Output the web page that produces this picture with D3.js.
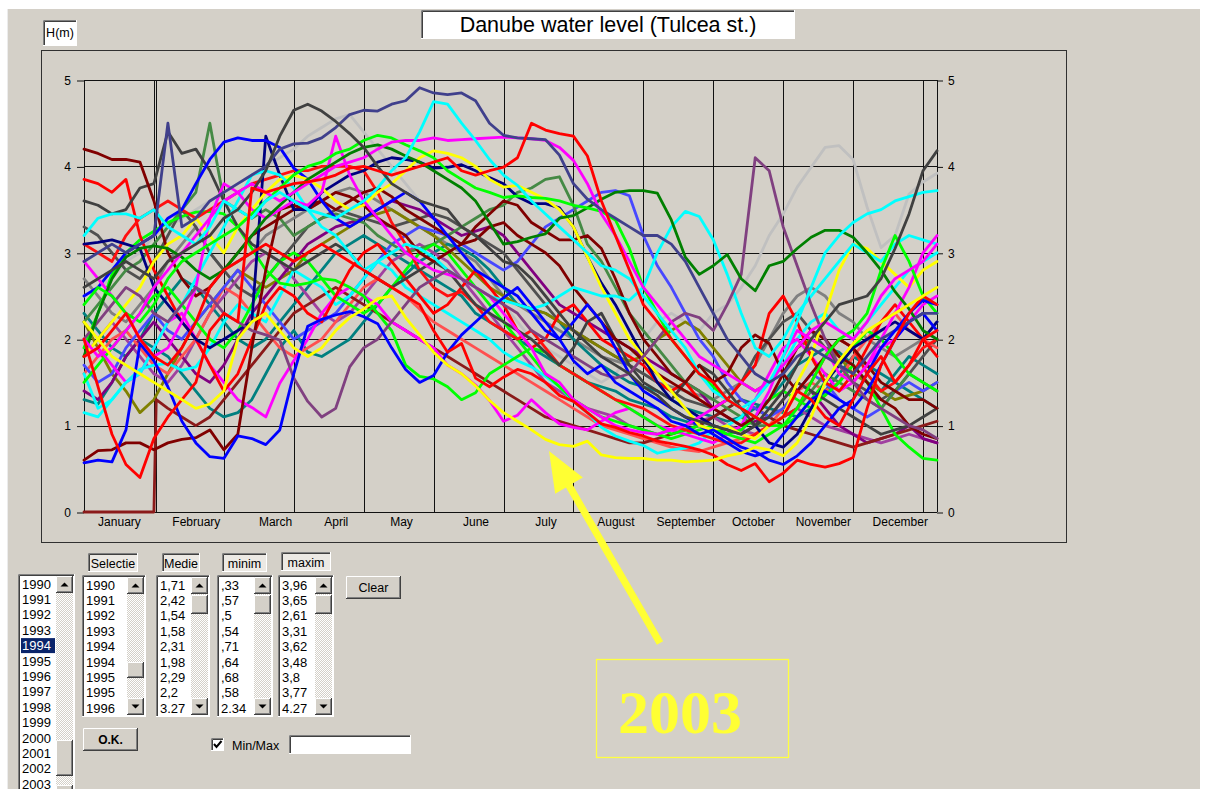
<!DOCTYPE html>
<html><head><meta charset="utf-8">
<script src="https://cdn.jsdelivr.net/npm/d3@7"></script>
<style>
html,body{margin:0;padding:0;background:#fff;}
svg{display:block;font-family:"Liberation Sans",Arial,sans-serif;}
</style></head><body>
<svg id="c" width="1217" height="789"></svg>
<script>
// ---- sampling grid: day of year, every 6 days ----
const DAYS = [0,6,12,18,24,30,36,42,48,54,60,66,72,78,84,90,96,102,108,114,120,126,132,138,144,150,156,162,168,174,180,186,192,198,204,210,216,222,228,234,240,246,252,258,264,270,276,282,288,294,300,306,312,318,324,330,336,342,348,354,360,366];
// one year has no January record; the program plots it at 0 until day 30
const EMPTY_JAN_DAYS = [0, 30, 31];

const MONTHS = ["January","February","March","April","May","June","July","August","September","October","November","December"];
const MONTH_LABEL_DAYS = [15,48,82,108,136,168,198,228,258,287,317,350];
const GRID_DAYS = [0,30,31,60,90,120,150,180,210,240,270,300,330,360,366];
const LEVEL_TICKS = [0,1,2,3,4,5];

// ---- water level H(m), one array per year on the DAYS grid ----
const lvlRedA = [2.0,1.45,0.9,0.55,0.4, 0.85,1.1,1.3,1.5,2.1, 2.3,2.2,3.75,3.7,3.75, 3.8,3.82,3.85,3.9,3.98, 4.0,3.95,3.9,3.95,4.0, 4.05,4.1,3.95,3.9,3.95, 3.99,4.1,4.5,4.42,4.38, 4.35,4.12,3.6,3.2,2.8, 2.4,2.2,2.0,1.8,1.6, 1.5,1.3,1.2,1.1,1.0, 1.1,1.4,1.3,1.1,1.0, 1.3,1.6,1.8,1.5,1.7, 2.0,2.1];
const lvlRedB = [1.8,1.9,2.1,2.3,2.0, 1.8,1.7,1.9,2.2,2.6, 2.8,2.9,3.0,3.1,3.0, 2.9,3.0,3.1,3.0,2.9, 2.8,2.7,2.6,2.5,2.4, 2.1,1.85,1.95,1.55,1.45, 1.56,1.65,1.6,1.5,1.35, 1.28,1.15,1.02,0.98,0.92, 0.88,0.82,0.79,0.76,0.72, 0.66,0.55,0.48,0.56,0.35, 0.45,0.6,0.55,0.52,0.56, 0.63,1.2,1.7,2.0,2.3, 2.5,2.4];
const lvlRedC = [3.85,3.8,3.7,3.85,3.2, 2.8,2.5,2.2,2.0,1.7, 1.4,1.6,2.0,2.4,2.6, 2.5,2.3,2.2,2.5,2.8, 3.0,3.1,2.9,2.7,2.5, 2.3,2.4,2.6,2.8,2.6, 2.4,2.1,1.9,2.0,2.3, 2.4,2.2,2.0,1.9,1.8, 1.7,1.5,1.4,1.5,1.3, 1.2,1.3,1.5,1.7,2.3, 2.5,2.2,1.8,1.5,1.4, 1.6,1.9,2.2,2.4,2.2, 2.0,1.8];
const lvlRedD = [3.1,3.0,2.9,3.2,3.4, 3.5,3.6,3.5,3.4,3.5, 3.6,3.7,3.8,3.85,3.9, 3.95,3.95,4.0,4.0,4.0, 3.95,3.7,3.35,3.1,2.8, 2.6,2.5,2.55,2.4,2.2, 2.1,2.0,2.1,1.9,1.7, 1.6,1.5,1.4,1.3,1.25, 1.2,1.1,1.0,0.95,0.9, 0.85,0.8,0.8,0.9,1.0, 1.1,1.2,1.5,1.8,2.0, 1.9,1.6,1.4,1.5,1.7, 1.9,2.0];
const lvlBlue = [0.57,0.6,0.58,0.95,1.95, 1.75,1.45,1.05,0.8,0.64, 0.62,0.88,0.85,0.78,0.95, 1.6,2.15,2.23,2.28,2.32, 2.26,2.18,1.9,1.65,1.5, 1.58,1.85,2.05,2.2,2.35, 2.48,2.6,2.4,2.2,2.0, 1.75,1.6,1.7,1.5,1.4, 1.3,1.2,1.05,1.0,0.9, 0.95,0.85,0.75,0.7,0.6, 0.55,0.65,0.8,1.0,1.2, 1.3,1.6,1.9,2.1,2.3, 2.45,2.4];
const lvlMaroonA = [4.2,4.15,4.08,4.08,4.05, 3.6,3.0,2.7,2.5,2.6, 2.8,3.0,3.2,3.3,3.4, 3.5,3.55,3.6,3.5,3.6, 3.7,3.75,3.65,3.5,3.4, 3.3,3.2,3.1,3.15,3.3, 3.35,3.2,3.1,3.0,2.85, 2.6,2.4,2.2,2.0,1.9, 1.75,1.6,1.5,1.4,1.3, 1.2,1.1,1.0,1.1,1.3, 1.6,1.9,2.1,2.0,1.8, 1.7,1.5,1.3,1.2,1.0, 0.9,0.85];
const lvlMaroonB = [0.6,0.71,0.72,0.8,0.8, 0.72,0.8,0.84,0.86,0.95, 0.72,0.9,1.9,2.8,3.5, 3.55,3.5,3.6,3.7,3.65, 3.55,3.4,3.3,3.2,3.0, 2.9,3.0,3.1,3.3,3.45, 3.6,3.55,3.35,3.25,3.15, 3.15,3.2,3.05,2.7,2.3, 2.0,1.8,1.6,1.5,1.7, 1.5,1.6,1.9,2.05,1.95, 1.6,1.4,1.6,1.8,2.0, 1.9,1.7,1.5,1.4,1.3, 1.3,1.2];
const lvlDarkGrayA = [3.6,3.55,3.45,3.5,3.75, 3.8,4.4,4.15,4.2,3.95, 3.6,3.3,3.1,3.0,2.9, 2.8,2.9,3.0,3.1,3.0, 2.8,2.7,2.6,2.7,2.8, 2.9,2.8,2.6,2.4,2.3, 2.2,2.1,2.0,1.85,1.7, 1.9,2.2,2.3,2.0,1.7, 1.5,1.4,1.3,1.5,1.7, 1.6,1.4,1.2,1.0,1.1, 1.3,1.5,1.4,1.3,1.2, 1.1,1.0,0.9,0.95,1.0, 1.1,1.2];
const lvlDarkGrayB = [2.6,2.7,2.8,2.9,2.8, 2.7,2.9,3.0,3.1,3.2, 3.4,3.5,3.7,3.95,4.35, 4.65,4.72,4.64,4.52,4.38, 4.22,4.0,3.8,3.7,3.6, 3.55,3.5,3.3,3.2,3.05, 2.9,2.85,2.7,2.5,2.3, 2.1,1.95,1.8,1.7,1.6, 1.45,1.35,1.2,1.1,1.05, 1.0,0.95,0.9,1.0,1.2, 1.4,1.7,2.0,2.2,2.4, 2.45,2.5,2.7,3.05,3.45, 3.95,4.18];
const lvlDarkGrayC = [3.3,3.2,3.0,2.8,2.7, 2.9,3.2,3.5,3.3,3.0, 2.8,2.6,2.5,2.7,2.9, 3.1,3.3,3.4,3.5,3.45, 3.4,3.35,3.3,3.35,3.4, 3.45,3.4,3.3,3.2,3.1, 3.0,2.8,2.6,2.4,2.2, 2.1,2.0,1.9,1.8,1.7, 1.6,1.5,1.4,1.3,1.25, 1.2,1.3,1.5,1.8,2.0, 2.2,2.3,2.1,1.9,1.7, 1.5,1.4,1.3,1.4,1.6, 1.8,2.0];
const lvlSlate = [2.9,3.0,3.1,3.0,3.1, 3.2,4.5,3.3,3.4,3.6, 3.7,3.8,3.9,4.0,4.2, 4.26,4.27,4.33,4.45,4.6, 4.65,4.64,4.72,4.76,4.91, 4.85,4.83,4.85,4.76,4.5, 4.36,4.33,4.32,4.31,4.13, 3.8,3.62,3.5,3.4,3.3, 3.2,3.2,3.1,2.9,2.6, 2.3,2.0,1.8,1.6,1.5, 1.6,1.8,1.9,1.8,1.7, 1.6,1.8,2.0,2.1,2.2, 2.3,2.3];
const lvlCyanA = [3.2,3.4,3.45,3.45,3.4, 3.5,3.3,3.2,3.1,3.3, 3.6,3.5,3.4,3.6,3.7, 3.6,3.5,3.45,3.4,3.5, 3.6,3.75,3.95,4.1,4.4, 4.75,4.72,4.5,4.3,4.08, 3.9,3.78,3.6,3.45,3.3, 3.15,3.0,2.85,2.8,2.7, 2.5,2.3,2.1,1.9,1.6, 1.4,1.3,1.2,1.3,1.5, 1.8,2.2,2.6,3.0,3.2, 3.35,3.45,3.5,3.6,3.65, 3.7,3.72];
const lvlCyanB = [1.15,1.1,1.3,1.5,1.6, 1.9,2.2,2.4,2.7,3.0, 3.3,3.6,3.9,3.95,3.9, 3.75,3.5,3.3,3.2,3.0, 2.8,2.9,3.0,3.1,3.05, 2.95,2.8,2.7,2.6,2.5, 2.45,2.4,2.35,2.4,2.5, 2.6,2.55,2.5,2.5,2.45, 2.6,3.0,3.3,3.48,3.42, 3.15,2.75,2.3,1.9,1.8, 2.0,2.3,2.5,2.7,2.9, 3.1,3.0,2.9,3.1,3.2, 3.15,3.1];
const lvlCyanC = [1.6,1.2,1.3,1.5,1.65, 1.7,1.72,1.64,1.68,1.9, 2.2,2.4,2.3,2.2,2.5, 2.8,2.7,2.6,2.4,2.5, 2.7,2.9,2.8,2.6,2.5, 2.4,2.3,2.2,2.1,2.0, 1.85,1.75,1.68,1.57,1.45, 1.28,1.15,0.98,0.88,0.82, 0.77,0.68,0.72,0.74,0.8, 0.95,1.0,1.1,1.3,1.5, 1.7,2.0,2.2,2.3,2.1, 2.0,2.2,2.4,2.6,2.8, 2.9,3.0];
const lvlMagentaA = [2.0,1.8,1.9,2.1,2.3, 2.6,2.8,3.0,3.2,3.4, 3.6,3.7,3.8,3.7,3.6, 3.7,3.8,3.9,4.0,4.05, 4.1,4.2,4.28,4.3,4.3, 4.33,4.3,4.31,4.32,4.33, 4.34,4.33,4.32,4.3,4.22, 4.07,3.8,3.45,3.2,2.9, 2.6,2.4,2.2,2.0,1.8, 1.7,1.6,1.5,1.4,1.5, 1.7,1.9,2.1,2.2,2.1, 2.0,2.2,2.5,2.7,2.8, 2.9,3.1];
const lvlMagentaB = [2.9,2.7,2.5,2.3,2.0, 1.8,1.9,2.2,2.6,3.4, 3.8,3.7,3.5,3.4,3.5, 3.6,3.55,3.7,4.35,3.9, 3.6,3.4,3.2,3.0,2.9, 2.8,2.75,2.7,2.6,2.5, 2.3,2.1,1.9,1.6,1.5, 1.3,1.2,1.1,1.0,0.95, 0.92,0.9,0.95,1.0,1.1, 1.2,1.3,1.2,1.1,1.4, 1.8,2.1,2.0,1.9,1.6, 1.5,1.7,2.0,2.3,2.6, 3.0,3.2];
const lvlMagentaC = [1.8,1.9,1.7,1.5,1.6, 1.9,2.2,2.3,2.0,1.7, 1.5,1.3,1.21,1.1,1.49, 1.75,2.0,2.3,2.5,2.6, 2.5,2.4,2.2,2.1,2.0, 1.9,1.7,1.6,1.47,1.29, 1.05,1.12,1.3,1.15,1.02, 0.98,0.95,1.05,1.15,1.2, 1.1,1.0,0.95,0.9,0.85, 0.8,0.9,1.0,1.3,1.6, 1.9,2.0,1.8,1.6,1.4, 1.5,1.7,1.9,2.0,2.2, 2.4,2.5];
const lvl2003 = [2.2,2.0,1.8,1.7,1.6, 1.5,1.4,1.3,1.2,1.25, 1.4,2.0,2.2,2.3,2.1, 1.9,1.8,1.9,2.1,2.25, 2.35,2.47,2.5,2.25,2.05, 1.85,1.7,1.6,1.46,1.29, 1.15,1.05,0.95,0.84,0.78, 0.76,0.82,0.66,0.63,0.62, 0.62,0.6,0.6,0.58,0.59, 0.6,0.65,0.68,0.75,0.72, 0.65,0.8,1.1,1.5,1.75, 1.95,2.1,2.2,2.3,2.4, 2.5,2.6];
const lvlYellowB = [1.8,2.0,2.2,2.4,2.6, 2.9,3.1,3.2,3.4,3.2, 3.0,3.3,3.5,3.7,3.85, 3.9,3.85,3.75,3.6,3.5, 3.55,3.7,3.8,3.95,4.1, 4.18,4.15,4.1,4.0,3.85, 3.76,3.78,3.7,3.62,3.5, 3.3,2.95,2.6,2.3,2.0, 1.8,1.6,1.4,1.2,1.0, 0.95,1.0,0.9,0.85,1.0, 1.1,1.5,1.8,2.3,2.8, 3.1,3.05,2.9,2.75,2.6, 2.8,2.9];
const lvlLimeA = [2.4,2.6,2.5,2.3,2.2, 2.4,2.7,2.9,3.0,3.1, 3.2,3.3,3.45,3.6,3.75, 3.9,4.0,4.05,4.15,4.2, 4.3,4.36,4.33,4.25,4.18, 4.1,3.95,3.85,3.75,3.7, 3.64,3.66,3.64,3.63,3.6, 3.55,3.52,3.48,3.38,3.05, 2.6,2.3,2.0,1.8,1.6, 1.45,1.3,1.2,1.1,1.0, 1.0,1.2,1.5,1.8,2.0, 2.1,2.3,2.8,3.2,2.9, 2.5,2.3];
const lvlLimeB = [1.9,2.3,2.75,3.0,3.15, 3.25,3.35,3.42,3.47,3.48, 3.45,3.3,3.05,2.8,2.65, 2.62,2.65,2.7,2.68,2.6, 2.5,2.3,2.1,1.7,1.57, 1.54,1.45,1.3,1.38,1.6, 1.7,1.8,1.9,1.85,1.7, 1.6,1.5,1.4,1.3,1.2, 1.1,1.0,0.9,0.95,1.0, 0.95,0.9,0.95,1.1,1.3, 1.4,1.3,1.2,1.35,1.5, 1.7,1.5,1.2,0.9,0.75, 0.62,0.6];
const lvlLimeC = [1.5,1.7,1.9,2.1,2.3, 2.5,2.6,2.4,2.2,2.0, 1.9,2.1,2.4,2.7,2.9, 3.0,2.9,2.7,2.5,2.4, 2.3,2.4,2.6,2.8,3.0, 3.1,3.0,2.8,2.6,2.4, 2.2,2.0,1.8,1.6,1.45, 1.3,1.2,1.1,1.05,1.0, 0.95,0.9,0.85,0.9,0.95, 1.0,0.9,0.85,0.8,0.9, 1.0,1.1,1.3,1.5,1.7, 1.9,2.1,2.0,1.8,1.6, 1.5,1.4];
const lvlGreenA = [1.8,2.3,2.7,2.95,3.05, 3.08,3.05,2.95,2.8,2.7, 2.8,3.0,3.2,3.4,3.55, 3.7,3.85,3.95,4.05,4.15, 4.22,4.25,4.2,4.12,4.05, 3.95,3.85,3.75,3.6,3.35, 3.1,3.13,3.18,3.22,3.4, 3.43,3.52,3.62,3.7,3.72, 3.72,3.69,3.38,2.95,2.75, 2.85,2.98,2.7,2.56,2.85, 2.9,3.05,3.18,3.26,3.26, 3.18,3.0,2.8,2.55,2.35, 2.1,2.0];
const lvlGreenB = [2.2,2.4,2.6,2.8,2.9, 3.1,3.3,3.5,3.7,4.5, 3.6,3.5,3.4,3.5,3.4, 3.2,3.3,3.4,3.45,3.4, 3.35,3.2,3.1,3.0,3.05, 3.1,3.2,3.3,3.4,3.5, 3.55,3.7,3.75,3.85,3.88, 3.55,3.1,2.9,2.6,2.3, 2.1,1.9,1.7,1.5,1.4, 1.3,1.2,1.1,1.0,1.0, 1.1,1.2,1.4,1.6,1.5, 1.4,1.3,1.2,1.4,1.6, 1.5,1.4];
const lvlNavy = [3.1,3.12,3.15,3.1,3.05, 2.6,2.4,2.2,2.0,1.9, 2.0,2.1,2.2,4.35,3.9, 3.5,3.5,3.7,3.8,3.9, 3.95,4.05,4.1,4.08,4.05, 3.98,3.99,4.02,3.95,3.87, 3.8,3.65,3.57,3.57,3.52, 3.3,2.95,2.65,2.4,2.1, 1.8,1.5,1.3,1.2,1.1, 1.0,0.95,0.9,1.0,0.8, 0.75,0.9,1.2,1.5,1.7, 1.9,2.0,2.1,2.2,2.1, 2.0,2.2];
const lvlBlueB = [2.5,2.6,2.8,3.0,3.1, 3.2,3.4,3.5,3.8,4.08, 4.28,4.33,4.3,4.3,4.22, 3.98,3.85,3.6,3.4,3.3, 3.4,3.5,3.6,3.7,3.6, 3.4,3.2,3.0,2.8,2.7, 2.6,2.5,2.3,2.1,2.0, 2.2,2.4,2.2,1.9,1.6, 1.4,1.3,1.2,1.1,1.0, 0.9,0.8,0.7,0.65,0.7, 0.9,1.1,1.3,1.4,1.3, 1.2,1.4,1.7,2.0,2.2, 2.3,2.1];
const lvlMidBlue = [1.7,1.5,1.6,1.9,2.1, 2.3,2.1,2.0,2.2,2.4, 2.6,2.8,2.6,2.4,2.2, 2.0,2.1,2.2,2.3,2.5, 2.7,2.9,3.1,3.2,3.3, 3.25,3.2,3.1,3.0,2.9, 2.8,2.9,3.1,3.3,3.4, 3.5,3.6,3.7,3.72,3.66, 3.2,2.85,2.6,2.3,2.0, 1.8,1.5,1.3,1.2,1.1, 1.2,1.4,1.6,1.5,1.3, 1.2,1.1,1.2,1.4,1.5, 1.4,1.5];
const lvlPurpleA = [2.0,2.2,2.4,2.6,2.5, 2.3,2.2,2.4,2.6,2.5, 2.3,2.2,2.1,2.05,1.99, 1.55,1.28,1.1,1.2,1.68, 1.9,2.0,2.2,2.4,2.6, 2.7,2.8,2.7,2.6,2.5, 2.4,2.3,2.1,2.0,1.9, 1.8,1.7,1.6,1.55,1.6, 1.8,2.0,2.2,2.3,2.25, 2.1,2.4,2.75,4.1,3.95, 3.3,2.85,2.4,2.0,1.7, 1.5,1.3,1.2,1.1,1.0, 0.95,0.85];
const lvlPurpleB = [1.4,1.3,1.5,1.8,2.0, 2.2,2.0,1.8,1.6,1.5, 1.7,2.0,2.3,2.5,2.7, 2.9,3.1,3.2,3.3,3.35, 3.4,3.5,3.6,3.55,3.5, 3.4,3.3,3.2,3.25,3.3, 3.2,3.0,2.8,2.6,2.4, 2.3,2.2,2.1,2.0,1.9, 1.8,1.7,1.6,1.5,1.4, 1.2,1.1,1.0,1.05,1.1, 1.3,1.5,1.4,1.2,1.0, 0.9,0.8,0.85,0.9,1.0, 0.85,0.8];
const lvlPurpleC = [1.8,2.0,2.2,2.0,1.8, 1.6,1.5,1.7,2.0,2.3, 2.5,2.7,2.9,3.0,2.9, 2.7,2.5,2.3,2.2,2.3, 2.5,2.7,2.9,3.0,3.1, 3.0,2.9,2.7,2.5,2.3, 2.1,1.9,1.7,1.5,1.4, 1.3,1.2,1.15,1.1,1.0, 0.95,0.9,0.95,1.0,1.05, 1.1,1.0,0.95,0.9,1.0, 1.1,1.2,1.1,1.0,0.95, 0.9,0.85,0.8,0.85,0.9, 0.85,0.8];
const lvlOlive = [2.2,1.9,1.6,1.4,1.15, 1.3,1.6,1.9,2.2,2.4, 2.6,2.8,2.7,2.6,2.7, 2.8,3.0,3.1,3.2,3.3, 3.4,3.45,3.5,3.4,3.3, 3.2,3.05,2.9,2.75,2.6, 2.5,2.4,2.35,2.3,2.2, 2.1,2.0,1.9,1.8,1.75, 1.8,2.0,2.1,2.2,2.1, 1.9,1.7,1.5,1.4,1.5, 1.7,1.9,2.0,1.9,1.8, 1.6,1.5,1.4,1.3,1.35, 1.4,1.5];
const lvlTeal = [1.3,1.25,1.5,1.8,2.0, 1.9,1.8,1.6,1.4,1.2, 1.1,1.15,1.3,1.6,1.9, 2.1,1.85,1.8,1.9,2.0, 2.2,2.4,2.6,2.75,2.9, 3.0,3.1,3.05,2.95,2.8, 2.6,2.4,2.35,2.3,2.2, 2.0,1.85,1.7,1.6,1.5, 1.45,1.4,1.3,1.2,1.15, 1.1,1.05,1.1,1.2,1.3, 1.5,1.7,1.8,1.9,1.85, 1.7,1.5,1.4,1.6,1.8, 1.7,1.6];
const lvlTealB = [2.3,2.1,1.9,1.8,2.0, 2.3,2.5,2.7,2.6,2.4, 2.2,2.0,1.9,2.0,2.2, 2.4,2.6,2.8,3.0,3.1, 3.2,3.1,3.0,2.9,2.8, 2.7,2.6,2.5,2.3,2.2, 2.1,2.0,1.9,1.8,1.7, 1.6,1.5,1.45,1.4,1.3, 1.25,1.2,1.1,1.05,1.0, 1.1,1.2,1.3,1.25,1.2, 1.15,1.1,1.2,1.4,1.6, 1.8,1.7,1.6,1.5,1.4, 1.3,1.2];
const lvlGray = [2.7,2.5,2.3,2.2,2.4, 2.6,2.9,3.1,3.3,3.0, 2.8,2.9,3.0,3.2,3.3, 3.4,3.5,3.6,3.7,3.75, 3.7,3.6,3.5,3.4,3.3, 3.2,3.1,3.0,2.9,2.7, 2.5,2.4,2.3,2.2,2.1, 2.0,1.9,1.8,1.75,1.7, 1.6,1.5,1.45,1.4,1.35, 1.3,1.4,1.5,1.7,2.0, 2.3,2.5,2.6,2.5,2.3, 2.2,2.0,1.9,1.8,1.9, 2.0,2.2];
const lvlSilver = [2.5,2.6,2.7,2.9,3.0, 3.2,3.3,3.4,3.5,3.6, 3.7,3.8,3.9,4.0,4.1, 4.2,4.35,4.45,4.55,4.6, 4.4,4.2,4.0,3.8,3.6, 3.4,3.2,3.0,2.8,2.6, 2.4,2.2,2.0,1.9,1.8, 1.7,1.6,1.5,1.6,1.8, 2.0,2.2,2.3,2.2,2.1, 2.3,2.4,2.6,2.85,3.2, 3.45,3.76,3.99,4.22,4.24, 4.08,3.53,3.06,3.2,3.68, 3.82,3.92];
const lvlSalmon = [1.6,1.8,2.0,2.1,1.9, 1.7,1.6,1.8,2.0,2.3, 2.6,2.5,2.3,2.1,1.9, 1.8,1.9,2.0,2.2,2.4, 2.6,2.7,2.6,2.5,2.35, 2.2,2.1,2.0,1.9,1.8, 1.7,1.6,1.5,1.4,1.3, 1.2,1.1,1.0,0.95,0.9, 0.85,0.8,0.75,0.72,0.7, 0.75,0.8,0.85,0.9,1.0, 1.2,1.4,1.5,1.4,1.5, 1.8,2.0,2.2,2.3,2.1, 2.0,1.9];
// this year starts at day 31: two zero points, then the DAYS grid from day 36
const lvlEmptyJan = [0,0,1.3, 1.2,1.1,1.0,1.1,1.3, 1.5,1.7,1.9,2.1,2.3, 2.4,2.5,2.6,2.5,2.4, 2.3,2.2,2.1,2.0,1.9, 1.8,1.7,1.6,1.5,1.4, 1.3,1.2,1.1,1.05,1.0, 0.95,0.9,0.85,0.8,0.8, 0.85,0.9,0.95,1.0,1.1, 1.2,1.3,1.2,1.1,1.0, 0.95,0.9,0.85,0.8,0.75, 0.8,0.85,0.9,0.95,1.0, 1.05];

// lists of the form below the chart
const YEAR_ITEMS = ["1990","1991","1992","1993","1994","1995","1996","1997","1998","1999","2000","2001","2002","2003"];
const SELECTED_YEAR = "1994";
const SELECTIE = ["1990","1991","1992","1993","1994","1994","1995","1995","1996"];
const MEDIE = ["1,71","2,42","1,54","1,58","2,31","1,98","2,29","2,2","3.27"];
const MINIM = [",33",",57",",5",",54",",71",",64",",68",",58","2.34"];
const MAXIM = ["3,96","3,65","2,61","3,31","3,62","3,48","3,8","3,77","4.27"];

// drawing order: later series are painted on top
const SERIES = [
  {c:"#c0c0c0", v:lvlSilver}, {c:"#808080", v:lvlGray}, {c:"#008080", v:lvlTeal},
  {c:"#008080", v:lvlTealB}, {c:"#505050", v:lvlDarkGrayC}, {c:"#a040a0", v:lvlPurpleC},
  {c:"#808000", v:lvlOlive}, {c:"#800080", v:lvlPurpleB}, {c:"#ff5050", v:lvlSalmon},
  {c:"#8b1a1a", v:lvlEmptyJan, days:EMPTY_JAN_DAYS.concat(DAYS.slice(6))},
  {c:"#4848ff", v:lvlMidBlue}, {c:"#458a45", v:lvlGreenB}, {c:"#00ffff", v:lvlCyanC},
  {c:"#00ff00", v:lvlLimeC},
  {c:"#ff00ff", v:lvlMagentaC}, {c:"#00ff00", v:lvlLimeB}, {c:"#ff0000", v:lvlRedC},
  {c:"#ff1010", v:lvlRedD}, {c:"#404040", v:lvlDarkGrayA}, {c:"#800000", v:lvlMaroonA},
  {c:"#800000", v:lvlMaroonB}, {c:"#000080", v:lvlNavy}, {c:"#0000ff", v:lvlBlueB},
  {c:"#ffff00", v:lvlYellowB}, {c:"#00ffff", v:lvlCyanB}, {c:"#ff00ff", v:lvlMagentaB},
  {c:"#804080", v:lvlPurpleA}, {c:"#008000", v:lvlGreenA}, {c:"#00ff00", v:lvlLimeA},
  {c:"#ff00ff", v:lvlMagentaA}, {c:"#00ffff", v:lvlCyanA}, {c:"#40408c", v:lvlSlate},
  {c:"#404040", v:lvlDarkGrayB}, {c:"#0000ff", v:lvlBlue}, {c:"#ff0000", v:lvlRedA},
  {c:"#ff0000", v:lvlRedB}, {c:"#ffff00", v:lvl2003}
];

const svg = d3.select("#c");
const FACE = "#d4d0c8";

// window background
svg.append("rect").attr("x",0).attr("y",0).attr("width",1217).attr("height",789).attr("fill","#fff");
svg.append("rect").attr("x",7).attr("y",9).attr("width",1193).attr("height",780).attr("fill",FACE);
svg.append("line").attr("x1",7.5).attr("y1",9).attr("x2",7.5).attr("y2",789).attr("stroke","#ececec");

const defs = svg.append("defs");
const pat = defs.append("pattern").attr("id","dither").attr("width",2).attr("height",2).attr("patternUnits","userSpaceOnUse");
pat.append("rect").attr("width",2).attr("height",2).attr("fill",FACE);
pat.append("rect").attr("width",1).attr("height",1).attr("fill","#fff");
pat.append("rect").attr("x",1).attr("y",1).attr("width",1).attr("height",1).attr("fill","#fff");

// sunken and raised 3D frames
function sunken(g, x, y, w, h, fill) {
  g.append("rect").attr("x",x).attr("y",y).attr("width",w).attr("height",h).attr("fill",fill);
  const l = (x1,y1,x2,y2,c)=>g.append("line").attr("x1",x1).attr("y1",y1).attr("x2",x2).attr("y2",y2).attr("stroke",c);
  l(x+0.5,y+h,x+0.5,y+0.5,"#808080"); l(x+0.5,y+0.5,x+w,y+0.5,"#808080");
  l(x+1.5,y+h-1,x+1.5,y+1.5,"#404040"); l(x+1.5,y+1.5,x+w-1,y+1.5,"#404040");
  l(x+w-0.5,y,x+w-0.5,y+h-0.5,"#fff"); l(x,y+h-0.5,x+w,y+h-0.5,"#fff");
}
function raised(g, x, y, w, h) {
  g.append("rect").attr("x",x).attr("y",y).attr("width",w).attr("height",h).attr("fill",FACE);
  const l = (x1,y1,x2,y2,c)=>g.append("line").attr("x1",x1).attr("y1",y1).attr("x2",x2).attr("y2",y2).attr("stroke",c);
  l(x+0.5,y+h,x+0.5,y+0.5,"#fff"); l(x+0.5,y+0.5,x+w,y+0.5,"#fff");
  l(x+w-0.5,y,x+w-0.5,y+h-0.5,"#404040"); l(x,y+h-0.5,x+w,y+h-0.5,"#404040");
  l(x+w-1.5,y+1,x+w-1.5,y+h-1.5,"#808080"); l(x+1,y+h-1.5,x+w-1,y+h-1.5,"#808080");
}
function arrowBtn(g, x, y, w, h, up) {
  raised(g, x, y, w, h);
  const cx = x + w/2, cy = y + h/2;
  const p = up ? [[cx-4,cy+2],[cx+4,cy+2],[cx,cy-2]] : [[cx-4,cy-2],[cx+4,cy-2],[cx,cy+2]];
  g.append("path").attr("d","M"+p.join("L")+"Z").attr("fill","#000");
}

// title and unit label
sunken(svg, 421, 10, 374, 29, "#fff");
svg.append("text").attr("x",608).attr("y",31.5).attr("text-anchor","middle").attr("font-size",21.5).attr("fill","#000")
  .text("Danube water level (Tulcea st.)");
sunken(svg, 43, 20, 34, 26, "#fff");
svg.append("text").attr("x",60).attr("y",37).attr("text-anchor","middle").attr("font-size",12.5).text("H(m)");

// chart panel
svg.append("rect").attr("x",41.5).attr("y",50.5).attr("width",1025).attr("height",492).attr("fill","none").attr("stroke","#303030");

const x = d3.scaleLinear().domain([0,366]).range([84,937]);
const y = d3.scaleLinear().domain([0,5]).range([512,80]);
const px = v => Math.round(v) + 0.5;

const grid = svg.append("g").attr("stroke","#111").attr("stroke-width",1);
grid.selectAll("line.v").data(GRID_DAYS).join("line").attr("class","v")
  .attr("x1",d=>px(x(d))).attr("x2",d=>px(x(d))).attr("y1",y(5)).attr("y2",y(0));
grid.selectAll("line.h").data(LEVEL_TICKS).join("line").attr("class","h")
  .attr("x1",x(0)).attr("x2",x(366)).attr("y1",d=>px(y(d))).attr("y2",d=>px(y(d)));

function styleAxis(g){
  g.select(".domain").remove();
  g.selectAll("text").attr("font-size",12).attr("fill","#000").attr("font-family","Liberation Sans, Arial, sans-serif");
  g.selectAll("line").attr("stroke","#111");
}
svg.append("g").attr("transform","translate(84,0.5)")
  .call(d3.axisLeft(y).tickValues(LEVEL_TICKS).tickSize(7).tickPadding(6).tickFormat(d3.format("d"))).call(styleAxis);
svg.append("g").attr("transform","translate(937,0.5)")
  .call(d3.axisRight(y).tickValues(LEVEL_TICKS).tickSize(6).tickPadding(5).tickFormat(d3.format("d"))).call(styleAxis);
svg.append("g").attr("transform","translate(0,512)")
  .call(d3.axisBottom(x).tickValues(MONTH_LABEL_DAYS).tickSize(0).tickPadding(5).tickFormat((d,i)=>MONTHS[i])).call(styleAxis);

// yearly level curves
const line = d3.line().x(d=>x(d[0])).y(d=>y(d[1]));
svg.append("g").attr("fill","none").attr("stroke-width",2.8).attr("stroke-linejoin","round").attr("stroke-linecap","round")
  .selectAll("path").data(SERIES).join("path")
  .attr("stroke",s=>s.c)
  .attr("d",s=>line((s.days||DAYS).map((d,i)=>[d,s.v[i]])));

// ---- form controls ----
let clipId = 0;
function listBox(x0, y0, w, h, items, opts) {
  const g = svg.append("g");
  sunken(g, x0, y0, w, h, "#fff");
  const sbX = x0 + w - 19, sbW = 17;
  const id = "clip" + (clipId++);
  defs.append("clipPath").attr("id",id).append("rect").attr("x",x0+2).attr("y",y0+2).attr("width",sbX-x0-2).attr("height",h-4);
  const tg = g.append("g").attr("clip-path","url(#"+id+")");
  items.forEach((t,k)=>{
    const top = y0 + 2 + k*15.4;
    const sel = t === opts.selected;
    if (sel) tg.append("rect").attr("x",x0+3).attr("y",top+0.5).attr("width",sbX-x0-4).attr("height",15).attr("fill","#0a246a");
    tg.append("text").attr("x",x0+4).attr("y",top+12.5).attr("font-size",13).attr("fill",sel?"#fff":"#000").text(t);
  });
  g.append("rect").attr("x",sbX).attr("y",y0+2).attr("width",sbW).attr("height",h-4).attr("fill","url(#dither)");
  arrowBtn(g, sbX, y0+2, sbW, 17, true);
  arrowBtn(g, sbX, y0+h-19, sbW, 17, false);
  raised(g, sbX, opts.thumbY, sbW, opts.thumbH);
  return g;
}
function header(x0, y0, w, h, label) {
  const g = svg.append("g");
  sunken(g, x0, y0, w, h, "#ece9e4");
  g.append("text").attr("x",x0+w/2).attr("y",y0+14.5).attr("text-anchor","middle").attr("font-size",12.5).text(label);
}

listBox(18, 574, 57, 230, YEAR_ITEMS, {selected:SELECTED_YEAR, thumbY:740, thumbH:36});
header(88, 553, 50, 19, "Selectie");
listBox(82, 575, 64, 142, SELECTIE, {thumbY:662, thumbH:16});
header(162, 553, 38, 19, "Medie");
listBox(156, 575, 54, 142, MEDIE, {thumbY:595, thumbH:19});
header(222, 553, 45, 19, "minim");
listBox(217, 575, 56, 142, MINIM, {thumbY:595, thumbH:19});
header(281, 552, 50, 19, "maxim");
listBox(278, 575, 56, 142, MAXIM, {thumbY:595, thumbH:19});

const clearBtn = svg.append("g");
raised(clearBtn, 346, 576, 55, 23);
clearBtn.append("text").attr("x",373.5).attr("y",592).attr("text-anchor","middle").attr("font-size",12.5).text("Clear");
const okBtn = svg.append("g");
raised(okBtn, 83, 728, 55, 23);
okBtn.append("text").attr("x",110.5).attr("y",744).attr("text-anchor","middle").attr("font-size",12).attr("font-weight","bold").text("O.K.");

const chk = svg.append("g");
sunken(chk, 211, 738, 13, 13, "#fff");
chk.append("path").attr("d","M214,744 L216.5,747 L221.5,741").attr("fill","none").attr("stroke","#000").attr("stroke-width",2);
chk.append("text").attr("x",232).attr("y",749.5).attr("font-size",12.5).text("Min/Max");
sunken(svg, 289, 735, 122, 19, "#fff");

// highlighted year callout
const note = svg.append("g");
const tip = [549, 451], tail = [660, 643];
const ang = Math.atan2(tip[1]-tail[1], tip[0]-tail[0]);
const ux = Math.cos(ang), uy = Math.sin(ang), nx = -uy, ny = ux;
const headLen = 40, headHalf = 16, shaft = 3.6;
const bx = tip[0]-headLen*ux, by = tip[1]-headLen*uy;
note.append("path").attr("fill","#ffff33").attr("d",
  `M${tip[0]},${tip[1]} L${bx+headHalf*nx},${by+headHalf*ny} L${bx+shaft*nx},${by+shaft*ny}
   L${tail[0]+shaft*nx},${tail[1]+shaft*ny} L${tail[0]-shaft*nx},${tail[1]-shaft*ny}
   L${bx-shaft*nx},${by-shaft*ny} L${bx-headHalf*nx},${by-headHalf*ny} Z`);
note.append("rect").attr("x",596.5).attr("y",659.5).attr("width",192).attr("height",98)
  .attr("fill","none").attr("stroke","#ffff40").attr("stroke-width",1.3);
note.append("text").attr("x",680).attr("y",733).attr("text-anchor","middle")
  .attr("font-family","Liberation Serif, Times New Roman, serif").attr("font-weight","bold").attr("font-size",62)
  .attr("fill","#ffff33").text("2003");
</script></body></html>
